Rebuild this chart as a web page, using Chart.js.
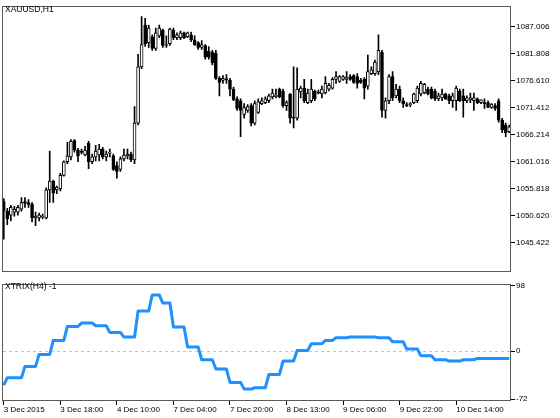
<!DOCTYPE html>
<html lang="en">
<head>
<meta charset="UTF-8">
<title>XAUUSD,H1 - XTRIX(H4)</title>
<script src="https://cdn.jsdelivr.net/npm/chart.js"></script>
<style>
    body { margin: 0; background: #fff; width: 560px; height: 418px; overflow: hidden; position: relative; }
    canvas { position: absolute; left: 0; }
    #priceChart { top: 0; }
    #trixChart { top: 278px; }
    .caption { position: absolute; left: 5px; font: 8.5px "Liberation Sans", Arial, sans-serif; line-height: 10px; color: #000; }
</style>
</head>
<body>
<canvas id="priceChart" width="560" height="278"></canvas>
<canvas id="trixChart" width="560" height="140"></canvas>
<div class="caption" style="top:4px">XAUUSD,H1</div>
<div class="caption" style="top:281px">XTRIX(H4) -1</div>
<script>
// XAUUSD H1 candles, 3 Dec 2015 .. 10 Dec 2015
const opens = [
    1053.37, 1051.50, 1050.76, 1051.32, 1051.32, 1051.88, 1053.37, 1053.18, 1052.81, 1050.20,
    1050.20, 1050.39, 1050.20, 1055.60, 1057.27, 1055.60, 1055.79, 1058.39, 1061.00, 1061.93,
    1065.09, 1063.23, 1062.86, 1062.30, 1064.54, 1061.00, 1061.93, 1062.30, 1063.42, 1061.93,
    1062.67, 1062.12, 1060.25, 1059.51, 1061.56, 1062.12, 1062.49, 1061.37, 1068.44, 1079.24,
    1087.25, 1083.89, 1085.01, 1082.78, 1085.20, 1086.32, 1083.34, 1083.71, 1086.32, 1084.83,
    1084.83, 1085.76, 1085.01, 1085.38, 1084.45, 1083.89, 1082.96, 1083.34, 1082.22, 1082.03,
    1081.85, 1077.01, 1076.63, 1076.82, 1076.63, 1074.96, 1073.10, 1072.73, 1070.12, 1070.86,
    1071.80, 1068.44, 1070.49, 1072.17, 1072.35, 1072.73, 1073.47, 1073.47, 1074.96, 1074.59,
    1071.80, 1074.03, 1069.56, 1069.37, 1074.40, 1075.14, 1072.35, 1072.73, 1074.59, 1074.40,
    1074.03, 1074.21, 1074.96, 1075.14, 1076.82, 1076.45, 1076.82, 1076.82, 1077.38, 1077.57,
    1077.38, 1076.63, 1076.82, 1075.52, 1077.94, 1077.94, 1078.31, 1082.03, 1070.86, 1072.73,
    1077.38, 1073.66, 1074.96, 1072.73, 1071.98, 1071.98, 1072.35, 1072.73, 1074.03, 1074.21,
    1074.96, 1074.96, 1074.59, 1073.10, 1073.28, 1074.03, 1073.66, 1072.73, 1072.73, 1074.59,
    1073.66, 1072.73, 1072.91, 1072.73, 1073.10, 1072.35, 1072.35, 1072.35, 1071.42, 1071.80,
    1072.73, 1069.00, 1068.07, 1066.77
];
const highs = [
    1053.93, 1052.06, 1052.62, 1052.44, 1052.62, 1054.11, 1054.11, 1053.74, 1053.18, 1051.32,
    1051.13, 1050.95, 1055.97, 1063.05, 1057.46, 1056.34, 1058.76, 1061.18, 1064.72, 1065.28,
    1065.28, 1063.60, 1063.42, 1063.98, 1064.91, 1062.49, 1064.16, 1064.35, 1063.79, 1063.05,
    1063.42, 1062.49, 1061.00, 1061.93, 1063.42, 1063.42, 1062.86, 1071.61, 1081.66, 1088.92,
    1088.55, 1087.25, 1085.38, 1086.69, 1087.25, 1086.50, 1085.20, 1086.69, 1086.69, 1085.76,
    1086.13, 1085.94, 1085.94, 1085.94, 1085.20, 1084.08, 1084.27, 1083.52, 1083.15, 1082.41,
    1082.41, 1077.38, 1077.57, 1077.75, 1077.01, 1075.33, 1073.47, 1073.10, 1072.17, 1071.98,
    1072.17, 1072.73, 1073.10, 1073.28, 1073.47, 1074.03, 1074.96, 1074.96, 1075.14, 1074.96,
    1072.73, 1074.10, 1079.24, 1079.05, 1075.52, 1076.82, 1074.96, 1076.82, 1074.77, 1074.77,
    1075.52, 1077.38, 1076.07, 1077.19, 1078.31, 1077.57, 1077.57, 1078.31, 1077.75, 1077.75,
    1077.94, 1077.01, 1077.19, 1081.48, 1079.24, 1080.54, 1085.38, 1082.41, 1073.28, 1077.75,
    1078.31, 1075.89, 1075.52, 1073.28, 1072.35, 1072.35, 1074.21, 1075.52, 1076.45, 1076.07,
    1075.33, 1075.33, 1074.96, 1074.21, 1074.96, 1074.21, 1074.03, 1074.21, 1075.52, 1074.96,
    1074.96, 1073.66, 1074.21, 1074.21, 1073.28, 1072.91, 1073.10, 1072.73, 1072.17, 1072.17,
    1073.10, 1069.37, 1068.44, 1068.07
];
const lows = [
    1046.11, 1048.90, 1049.64, 1050.57, 1050.76, 1051.50, 1052.25, 1052.25, 1049.46, 1048.71,
    1049.64, 1050.01, 1050.01, 1053.18, 1053.18, 1054.86, 1055.41, 1058.21, 1060.63, 1061.37,
    1062.86, 1061.00, 1062.49, 1062.12, 1059.69, 1060.63, 1061.18, 1061.18, 1061.56, 1061.18,
    1061.93, 1059.32, 1057.83, 1059.14, 1061.18, 1061.56, 1061.00, 1060.63, 1068.07, 1078.87,
    1083.15, 1082.96, 1082.41, 1082.41, 1084.83, 1082.96, 1082.96, 1083.34, 1084.45, 1084.45,
    1084.45, 1084.64, 1084.83, 1084.08, 1083.34, 1082.59, 1082.59, 1080.73, 1080.73, 1079.61,
    1076.82, 1073.66, 1076.07, 1076.07, 1073.66, 1072.73, 1070.86, 1065.84, 1069.37, 1070.49,
    1067.89, 1068.07, 1070.31, 1071.98, 1072.17, 1072.35, 1073.10, 1073.28, 1073.28, 1071.42,
    1070.86, 1068.44, 1067.51, 1069.00, 1073.28, 1072.35, 1072.17, 1072.35, 1072.73, 1074.03,
    1073.28, 1074.03, 1074.59, 1074.96, 1076.07, 1076.26, 1076.63, 1076.07, 1076.63, 1076.07,
    1075.14, 1076.07, 1073.10, 1074.96, 1077.75, 1077.57, 1077.75, 1069.56, 1069.37, 1072.17,
    1072.73, 1073.28, 1072.35, 1071.42, 1071.61, 1071.61, 1072.17, 1072.35, 1073.66, 1074.03,
    1073.84, 1073.10, 1072.73, 1072.73, 1072.73, 1072.91, 1072.17, 1071.42, 1070.86, 1072.54,
    1069.56, 1072.35, 1072.35, 1070.86, 1072.17, 1072.17, 1071.24, 1071.40, 1071.24, 1070.86,
    1068.63, 1066.58, 1065.84, 1066.58
];
const closes = [
    1051.50, 1050.01, 1052.25, 1051.88, 1052.25, 1053.18, 1053.00, 1052.81, 1050.20, 1050.57,
    1050.76, 1050.57, 1055.60, 1057.27, 1055.04, 1056.16, 1058.39, 1061.00, 1062.12, 1064.91,
    1063.23, 1062.12, 1062.80, 1063.23, 1061.00, 1061.93, 1063.05, 1063.42, 1061.93, 1062.49,
    1062.86, 1059.51, 1059.14, 1061.56, 1062.30, 1062.49, 1061.37, 1068.44, 1079.24, 1083.52,
    1083.71, 1086.69, 1082.78, 1085.76, 1086.69, 1083.34, 1083.52, 1086.50, 1084.83, 1085.38,
    1085.76, 1084.83, 1085.76, 1084.45, 1083.52, 1082.96, 1083.52, 1081.10, 1081.10, 1079.99,
    1077.01, 1076.26, 1077.01, 1076.75, 1074.96, 1072.91, 1071.24, 1070.86, 1071.42, 1071.61,
    1068.44, 1072.17, 1072.54, 1072.73, 1073.10, 1073.66, 1074.21, 1073.84, 1073.47, 1071.80,
    1072.35, 1069.37, 1069.37, 1074.96, 1075.14, 1072.73, 1074.21, 1074.96, 1073.10, 1074.21,
    1074.96, 1076.07, 1075.70, 1076.82, 1077.38, 1077.38, 1077.38, 1077.19, 1076.82, 1076.26,
    1076.07, 1076.26, 1075.14, 1078.31, 1078.68, 1080.17, 1082.41, 1070.86, 1072.73, 1077.38,
    1073.28, 1074.96, 1072.73, 1072.17, 1071.80, 1072.17, 1074.03, 1075.14, 1076.07, 1075.89,
    1074.03, 1073.28, 1073.10, 1073.66, 1074.03, 1073.10, 1072.73, 1073.66, 1075.14, 1072.73,
    1072.73, 1073.28, 1073.28, 1073.28, 1072.35, 1072.91, 1072.17, 1071.45, 1072.10, 1071.24,
    1069.00, 1067.14, 1066.58, 1067.70
];

// XTRIX(H4) value under each H1 bar
const xtrix = [
    -51, -40, -40, -40, -40, -40, -23, -23, -23, -23,
    -5, -5, -5, -5, 16, 16, 16, 16, 37, 37,
    37, 37, 42, 42, 42, 42, 38, 38, 38, 38,
    28, 28, 28, 28, 21, 21, 21, 21, 60, 60,
    60, 60, 84, 84, 84, 72, 72, 72, 36, 36,
    36, 36, 6, 6, 6, 6, -13, -13, -13, -13,
    -27, -27, -27, -27, -47, -47, -47, -47, -57, -57,
    -57, -55, -55, -55, -55, -35, -35, -35, -35, -15,
    -15, -15, -15, 1, 1, 1, 1, 11, 11, 11,
    11, 16, 16, 16, 20, 20, 20, 20, 21, 21,
    21, 21, 21, 21, 21, 21, 20, 20, 20, 20,
    14, 14, 14, 14, 3, 3, 3, 3, -7, -7,
    -7, -7, -13, -13, -13, -13, -15, -15, -15, -15,
    -13, -13, -13, -13, -11, -11, -11, -11, -11, -11,
    -11, -11, -11, -11
];

const priceTicks = [1087.006, 1081.808, 1076.610, 1071.412, 1066.214, 1061.016, 1055.818, 1050.620, 1045.422];
const trixTicks = [98, 0, -72];
const timeTickBars = [0, 16, 32, 48, 64, 80, 96, 112, 128];
const timeTickLabels = ['3 Dec 2015', '3 Dec 18:00', '4 Dec 10:00', '7 Dec 04:00', '7 Dec 20:00',
    '8 Dec 13:00', '9 Dec 06:00', '9 Dec 22:00', '10 Dec 14:00'];

const barLabels = opens.map((_, i) => String(i));
const axisFont = { family: '"Liberation Sans", Arial, sans-serif', size: 8 };

// thin grey frame round each plot, as in the terminal
const framePlugin = {
    id: 'frame',
    afterDraw(chart) {
        const { ctx, chartArea: a } = chart;
        ctx.save();
        ctx.strokeStyle = '#5a5a5a';
        ctx.lineWidth = 1;
        ctx.strokeRect(Math.round(a.left) + 0.5, Math.round(a.top) + 0.5,
            Math.round(a.right - a.left) - 1, Math.round(a.bottom - a.top) - 1);
        ctx.restore();
    }
};

// dashed level line at 0 in the indicator window
const zeroLinePlugin = {
    id: 'zeroLine',
    beforeDatasetsDraw(chart) {
        const { ctx, chartArea: a, scales } = chart;
        const y = Math.round(scales.y.getPixelForValue(0)) + 0.5;
        ctx.save();
        ctx.strokeStyle = '#c4c4c4';
        ctx.lineWidth = 1;
        ctx.setLineDash([3, 3]);
        ctx.beginPath();
        ctx.moveTo(a.left + 1, y);
        ctx.lineTo(a.right - 1, y);
        ctx.stroke();
        ctx.restore();
    }
};

new Chart(document.getElementById('priceChart'), {
    type: 'bar',
    data: {
        labels: barLabels,
        datasets: [{
            label: 'wick',
            data: lows.map((l, i) => [l, highs[i]]),
            backgroundColor: '#000',
            barThickness: 1,
            grouped: false,
            order: 2
        }, {
            label: 'body',
            data: opens.map((o, i) => [o, closes[i]]),
            backgroundColor: ctx => closes[ctx.dataIndex] >= opens[ctx.dataIndex] ? '#fff' : '#000',
            borderColor: '#000',
            borderWidth: 1,
            borderSkipped: false,
            barThickness: 3,
            minBarLength: 1,
            grouped: false,
            order: 1
        }]
    },
    options: {
        responsive: false,
        animation: false,
        layout: { padding: { top: 2, left: 2, right: 0, bottom: 1 } },
        plugins: { legend: { display: false }, tooltip: { enabled: false } },
        scales: {
            x: { display: false },
            y: {
                position: 'right',
                min: 1039.78,
                max: 1090.97,
                afterBuildTicks: scale => { scale.ticks = priceTicks.map(v => ({ value: v })); },
                afterFit: scale => { scale.width = 49; },
                grid: { drawOnChartArea: false, tickLength: 4, tickColor: '#000' },
                border: { display: false },
                ticks: { font: axisFont, color: '#000', padding: 1, callback: v => v.toFixed(3) }
            }
        }
    },
    plugins: [framePlugin]
});

new Chart(document.getElementById('trixChart'), {
    type: 'line',
    data: {
        labels: barLabels,
        datasets: [{
            label: 'XTRIX(H4)',
            data: xtrix,
            borderColor: '#1e90ff',
            borderWidth: 3,
            borderJoinStyle: 'round',
            pointRadius: 0,
            tension: 0,
            fill: false
        }]
    },
    options: {
        responsive: false,
        animation: false,
        layout: { padding: { top: 0, left: 2, right: 0, bottom: 0 } },
        plugins: { legend: { display: false }, tooltip: { enabled: false } },
        scales: {
            x: {
                offset: true,
                afterFit: scale => { scale.height = 17; },
                grid: { drawOnChartArea: false, offset: false, tickLength: 4, tickColor: '#000' },
                border: { display: false },
                ticks: {
                    autoSkip: false,
                    maxRotation: 0,
                    align: 'start',
                    padding: 0,
                    font: axisFont,
                    color: '#000',
                    callback: (v, i) => {
                        const k = timeTickBars.indexOf(i);
                        return k >= 0 ? timeTickLabels[k] : null;
                    }
                }
            },
            y: {
                position: 'right',
                min: -74.86,
                max: 100.86,
                afterBuildTicks: scale => { scale.ticks = trixTicks.map(v => ({ value: v })); },
                afterFit: scale => { scale.width = 49; },
                grid: { drawOnChartArea: false, tickLength: 4, tickColor: '#000' },
                border: { display: false },
                ticks: { font: axisFont, color: '#000', padding: 1 }
            }
        }
    },
    plugins: [framePlugin, zeroLinePlugin]
});
</script>
</body>
</html>
